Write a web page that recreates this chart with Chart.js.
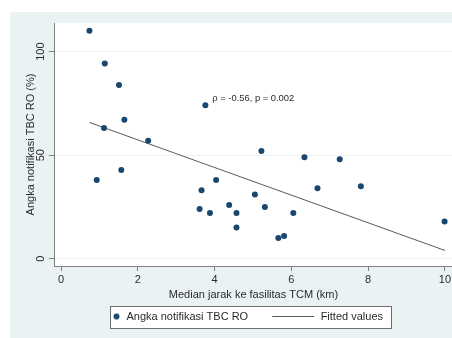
<!DOCTYPE html>
<html>
<head>
<meta charset="utf-8">
<script src="https://cdn.jsdelivr.net/npm/chart.js@4.4.1/dist/chart.umd.min.js"></script>
<style>
  html, body { margin: 0; padding: 0; background: #fff; overflow: hidden; }
  #wrap { width: 470px; height: 338px; }
</style>
</head>
<body>
<div id="wrap"><canvas id="chart" width="470" height="338"></canvas></div>
<script>
const canvasChart = document.getElementById('chart');

/* DATA */
const DIST_KM = [
    0.74, 1.14, 1.51, 3.76, 1.65, 1.12, 2.27, 5.22, 6.34, 7.26,
    1.57, 0.93, 4.04, 3.66, 6.68, 7.81, 5.05, 3.61, 3.88, 4.38,
    4.57, 5.31, 6.05, 4.57, 5.66, 5.81, 9.99
];
const NOTIF_RATE = [
    110.0, 94.2, 83.9, 74.1, 67.1, 63.1, 56.9, 52.0, 49.0, 48.0,
    42.9, 38.0, 38.0, 33.1, 34.0, 35.0, 31.0, 24.0, 22.1, 25.9,
    22.1, 25.0, 22.1, 15.1, 10.0, 11.0, 18.0
];
const FIT_X = [0.74, 10];
const FIT_Y = [65.8, 4.0];

const X_TICKS = [0, 2, 4, 6, 8, 10];
const Y_TICKS = [0, 50, 100];

const LABEL_POINTS = 'Angka notifikasi TBC RO';
const LABEL_FIT = 'Fitted values';
const X_TITLE = 'Median jarak ke fasilitas TCM (km)';
const Y_TITLE = 'Angka notifikasi TBC RO (%)';
const NOTE_TEXT = 'ρ = -0.56, p = 0.002';
const NOTE_AT = [3.94, 77.3];

/* STYLE */
const NAVY = '#1a476f';
const LINE_GREY = '#5a5a5a';
const AXIS_GREY = '#808080';
const BG = '#eaf2f3';
const TEXT = '#2b2b2b';
const LEGEND_BOX = 63;

Chart.defaults.font.family = '"Liberation Sans", Arial, sans-serif';
Chart.defaults.font.size = 11;
Chart.defaults.font.lineHeight = 1;
Chart.defaults.color = TEXT;

// legend symbols: dot sits at the right end of the box, line spans 42px
function makeDot() {
    const c = document.createElement('canvas');
    c.width = LEGEND_BOX; c.height = 8;
    const g = c.getContext('2d');
    g.fillStyle = NAVY;
    g.beginPath();
    g.arc(LEGEND_BOX - 4.5, 4, 3, 0, Math.PI * 2);
    g.fill();
    return c;
}
function makeLine() {
    const c = document.createElement('canvas');
    c.width = LEGEND_BOX; c.height = 3;
    const g = c.getContext('2d');
    g.strokeStyle = LINE_GREY;
    g.lineWidth = 1;
    g.beginPath();
    g.moveTo(LEGEND_BOX - 43, 1.5);
    g.lineTo(LEGEND_BOX - 1, 1.5);
    g.stroke();
    return c;
}
const DOT_IMG = makeDot();
const LINE_IMG = makeLine();

/* backgrounds, legend frame and the rho note */
const stataLook = {
    id: 'stataLook',
    beforeDraw(chart) {
        const {ctx, chartArea: a, width, height} = chart;
        ctx.save();
        ctx.fillStyle = BG;
        ctx.fillRect(10, 12, width - 10, height - 12);
        ctx.fillStyle = '#fff';
        ctx.fillRect(a.left, a.top, a.right - a.left, a.bottom - a.top);

        const hb = chart.legend.legendHitBoxes;
        if (hb && hb.length === 2) {
            const cy = hb[0].top + hb[0].height / 2;
            const left = Math.round(hb[0].left + LEGEND_BOX - 11.5);
            const right = Math.round(hb[1].left + hb[1].width + 8);
            const top = Math.round(cy - 11);
            ctx.fillRect(left, top, right - left, 22);
            ctx.strokeStyle = '#6e6e6e';
            ctx.lineWidth = 1;
            ctx.strokeRect(left + 0.5, top + 0.5, right - left, 22);
        }
        ctx.restore();
    },
    afterDatasetsDraw(chart) {
        const {ctx, scales} = chart;
        ctx.save();
        ctx.font = '9.4px "Liberation Sans", Arial, sans-serif';
        ctx.fillStyle = TEXT;
        ctx.textAlign = 'left';
        ctx.textBaseline = 'middle';
        ctx.fillText(NOTE_TEXT, scales.x.getPixelForValue(NOTE_AT[0]), scales.y.getPixelForValue(NOTE_AT[1]));
        ctx.restore();
    }
};

var chartScatter = new Chart(canvasChart, {
    type: 'scatter',
    data: {
        datasets: [
            {
                label: LABEL_POINTS,
                data: DIST_KM.map((x, i) => ({x: x, y: NOTIF_RATE[i]})),
                backgroundColor: NAVY,
                borderColor: NAVY,
                pointRadius: 3,
                pointBorderWidth: 0
            },
            {
                label: LABEL_FIT,
                data: FIT_X.map((x, i) => ({x: x, y: FIT_Y[i]})),
                showLine: true,
                borderColor: LINE_GREY,
                backgroundColor: LINE_GREY,
                borderWidth: 1,
                pointRadius: 0
            }
        ]
    },
    options: {
        responsive: false,
        animation: false,
        devicePixelRatio: 1,
        events: [],
        layout: { padding: { left: 10, top: 23, right: 17, bottom: 6 } },
        scales: {
            x: {
                type: 'linear',
                min: -0.183,
                max: 10.21,
                afterBuildTicks: (s) => { s.ticks = X_TICKS.map(v => ({value: v})); },
                grid: { drawOnChartArea: false, tickLength: 5, tickColor: AXIS_GREY },
                border: { color: AXIS_GREY, width: 1 },
                ticks: { padding: 3, maxRotation: 0 },
                title: { display: true, text: X_TITLE, padding: { top: 1, bottom: 7 } }
            },
            y: {
                type: 'linear',
                min: -3.5,
                max: 113.8,
                afterBuildTicks: (s) => { s.ticks = Y_TICKS.map(v => ({value: v})); },
                grid: { color: BG, tickLength: 5, tickColor: AXIS_GREY },
                border: { color: AXIS_GREY, width: 1 },
                ticks: { padding: -1, minRotation: 90, maxRotation: 90, crossAlign: 'center' },
                title: { display: true, text: Y_TITLE, padding: { top: 15.5, bottom: 3.5 } }
            }
        },
        plugins: {
            tooltip: { enabled: false },
            legend: {
                position: 'bottom',
                align: 'start',
                fullSize: false,
                labels: {
                    usePointStyle: true,
                    pointStyleWidth: LEGEND_BOX,
                    padding: 4,
                    font: { size: 11 },
                    generateLabels(chart) {
                        const items = Chart.defaults.plugins.legend.labels.generateLabels(chart);
                        items[0].pointStyle = DOT_IMG;
                        items[1].pointStyle = LINE_IMG;
                        return items;
                    }
                }
            }
        }
    },
    plugins: [stataLook]
});
</script>
</body>
</html>
